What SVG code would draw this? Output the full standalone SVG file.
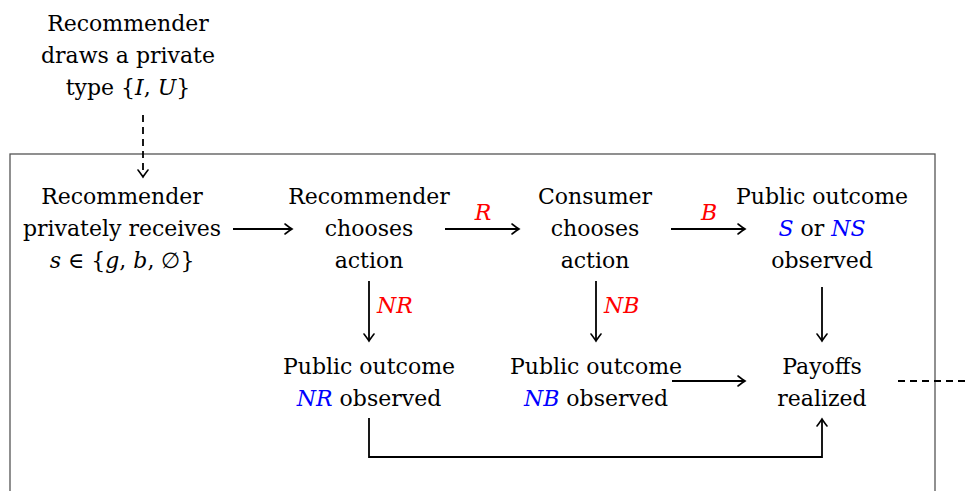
<svg xmlns="http://www.w3.org/2000/svg" width="966" height="491" viewBox="0 0 966 491">
<style>
text{font-size:22px;fill:#000;text-anchor:middle;font-family:"DejaVu Serif",serif}
.m{font-style:italic}
.r{fill:#ff0000}
.b{fill:#0000ff}
.ln{fill:none;stroke:#000;stroke-width:1.8}
.d{stroke-dasharray:7,5}
</style>
<defs>
<marker id="ah" viewBox="-10 -7 12 14" refX="0" refY="0" markerWidth="12" markerHeight="14" markerUnits="userSpaceOnUse" orient="auto">
<path d="M-7,-5 Q-2,-1.2 0,0 Q-2,1.2 -7,5" fill="none" stroke="#000" stroke-width="1.6" stroke-linecap="round"/>
</marker>
</defs>
<rect x="10" y="154" width="925" height="360" fill="none" stroke="#555" stroke-width="1.3"/>
<g id="connectors">
<line class="ln d" x1="143" y1="115" x2="143" y2="177" marker-end="url(#ah)"/>
<line class="ln" x1="233" y1="229" x2="292" y2="229" marker-end="url(#ah)"/>
<line class="ln" x1="445" y1="229" x2="519" y2="229" marker-end="url(#ah)"/>
<text class="m r" x="483" y="220">R</text>
<line class="ln" x1="671" y1="229" x2="745" y2="229" marker-end="url(#ah)"/>
<text class="m r" x="709" y="220">B</text>
<line class="ln" x1="369" y1="281" x2="369" y2="341" marker-end="url(#ah)"/>
<text class="m r" x="377" y="313" style="text-anchor:start">NR</text>
<line class="ln" x1="596" y1="281" x2="596" y2="341" marker-end="url(#ah)"/>
<text class="m r" x="604" y="313" style="text-anchor:start">NB</text>
<line class="ln" x1="822" y1="287" x2="822" y2="341" marker-end="url(#ah)"/>
<line class="ln" x1="672" y1="381" x2="745" y2="381" marker-end="url(#ah)"/>
<line class="ln d" x1="898" y1="381" x2="966" y2="381"/>
<polyline class="ln" points="369,418 369,457 822,457 822,419" marker-end="url(#ah)"/>
</g>
<g id="type">
<text x="128" y="31">Recommender</text>
<text x="128" y="63">draws a private</text>
<text x="128" y="95">type {<tspan class="m">I</tspan>, <tspan class="m">U</tspan>}</text>
</g>
<g id="receive">
<text x="122" y="204">Recommender</text>
<text x="122" y="236">privately receives</text>
<text x="122" y="268"><tspan class="m">s</tspan> ∈ {<tspan class="m">g</tspan>, <tspan class="m">b</tspan>, ∅}</text>
</g>
<g id="rchoose">
<text x="369" y="204">Recommender</text>
<text x="369" y="236">chooses</text>
<text x="369" y="268">action</text>
</g>
<g id="cchoose">
<text x="595" y="204">Consumer</text>
<text x="595" y="236">chooses</text>
<text x="595" y="268">action</text>
</g>
<g id="outS">
<text x="822" y="204">Public outcome</text>
<text x="822" y="236"><tspan class="m b">S</tspan> or <tspan class="m b">NS</tspan></text>
<text x="822" y="268">observed</text>
</g>
<g id="outNR">
<text x="369" y="374">Public outcome</text>
<text x="369" y="406"><tspan class="m b">NR</tspan> observed</text>
</g>
<g id="outNB">
<text x="596" y="374">Public outcome</text>
<text x="596" y="406"><tspan class="m b">NB</tspan> observed</text>
</g>
<g id="payoffs">
<text x="822" y="374">Payoffs</text>
<text x="822" y="406">realized</text>
</g>
</svg>
